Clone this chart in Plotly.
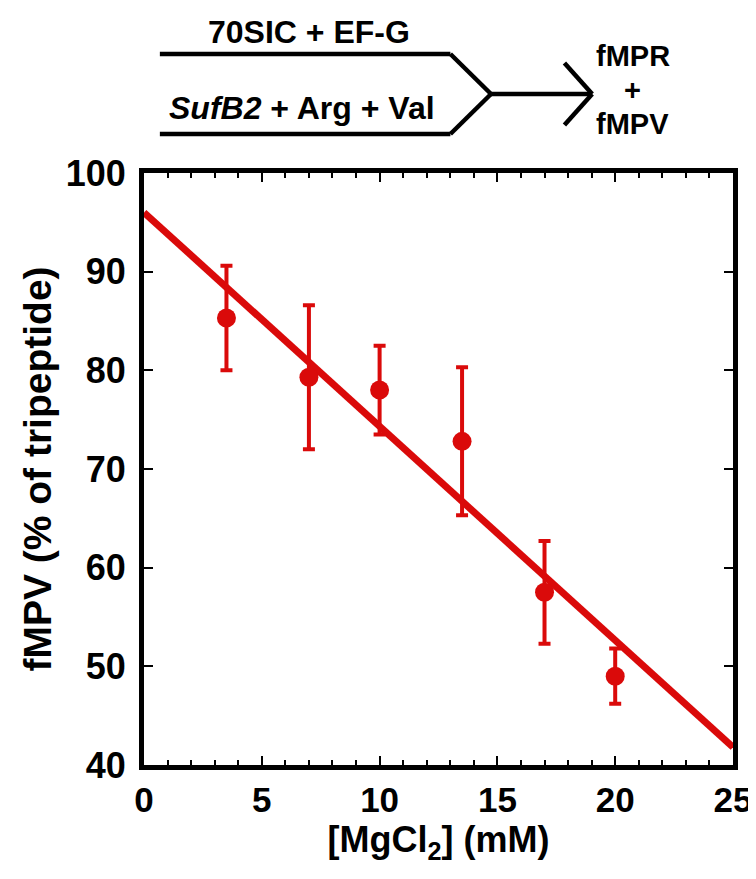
import plotly.graph_objects as go

# MgCl2 concentration (mM) and fMPV yield (% of tripeptide)
mgcl2_mM = [3.5, 7, 10, 13.5, 17, 20]
fmpv_pct = [85.3, 79.3, 78.0, 72.8, 57.5, 49.0]
fmpv_err = [5.3, 7.3, 4.5, 7.5, 5.2, 2.8]

# linear fit
fit_x = [0, 25]
fit_y = [96.0, 41.8]

x_ticks = [0, 5, 10, 15, 20, 25]
y_ticks = [40, 50, 60, 70, 80, 90, 100]

W, H = 756, 879
L, R, T, B = 136, 26, 165, 122

red = '#da0a0a'
black = '#000000'
sans = "Liberation Sans, Arial, sans-serif"


def px(x):
    return (x - L) / (W - L - R)


def py(y):
    return (H - B - y) / (H - T - B)


fig = go.Figure()

fig.add_trace(go.Scatter(
    x=fit_x, y=fit_y, mode='lines',
    line=dict(color=red, width=7),
    showlegend=False, hoverinfo='skip'
))

fig.add_trace(go.Scatter(
    x=mgcl2_mM, y=fmpv_pct, mode='markers',
    marker=dict(color=red, size=19, line=dict(width=0)),
    error_y=dict(type='data', array=fmpv_err, visible=True,
                 color=red, thickness=4, width=6),
    showlegend=False
))

# reaction scheme above the plot
scheme = [
    (152, 46, 445, 46), (445, 46, 486, 86),
    (152, 126, 445, 126), (445, 126, 486, 86),
    (486, 86, 588, 86),
    (560, 55, 588, 86), (588, 86, 560, 117),
]
shapes = [dict(type='line', xref='paper', yref='paper',
               x0=px(a), y0=py(b), x1=px(c), y1=py(d),
               line=dict(color=black, width=4.5))
          for a, b, c, d in scheme]

labels = [
    (302, 24, "70SIC + EF-G", 32),
    (295, 100, "<i>SufB2</i> + Arg + Val", 32),
    (629, 48, "fMPR", 29),
    (629, 82, "+", 29),
    (629, 116, "fMPV", 29),
]
annotations = [dict(x=px(a), y=py(b), xref='paper', yref='paper',
                    text=f"<b>{t}</b>", showarrow=False,
                    xanchor='center', yanchor='middle',
                    font=dict(family=sans, size=s, color=black))
               for a, b, t, s in labels]

fig.update_layout(
    width=W, height=H,
    margin=dict(l=L, r=R, t=T, b=B),
    plot_bgcolor='white', paper_bgcolor='white',
    shapes=shapes, annotations=annotations,
)

fig.update_xaxes(
    range=[0, 25], tickvals=x_ticks, ticktext=[f"<b>{v}</b>" for v in x_ticks],
    tickfont=dict(family=sans, size=35, color=black),
    showline=True, linewidth=5, linecolor=black, mirror='allticks',
    ticks='inside', ticklen=9, tickwidth=2, tickcolor=black,
    minor=dict(dtick=1, ticks='inside', ticklen=5, tickwidth=2, tickcolor=black),
    showgrid=False, zeroline=False,
    title=dict(text="<b>[MgCl<sub>2</sub>] (mM)</b>",
               font=dict(family=sans, size=36, color=black),
               standoff=6),
)
fig.update_yaxes(
    range=[40, 100], tickvals=y_ticks, ticktext=[f"<b>{v}</b>" for v in y_ticks],
    tickfont=dict(family=sans, size=36, color=black),
    ticklabelstandoff=6,
    showline=True, linewidth=5, linecolor=black, mirror='allticks',
    ticks='inside', ticklen=9, tickwidth=2, tickcolor=black,
    showgrid=False, zeroline=False,
    title=dict(text="<b>fMPV (% of tripeptide)</b>",
               font=dict(family=sans, size=39, color=black),
               standoff=4),
)

fig.write_html("out.html")
